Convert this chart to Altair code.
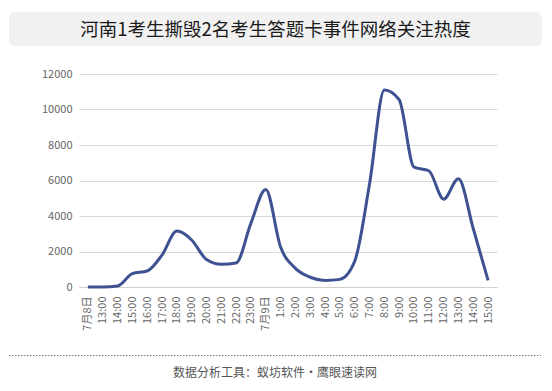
import altair as alt
import pandas as pd

# ---- data ----
labels = ["7月8日", "13:00", "14:00", "15:00", "16:00", "17:00", "18:00", "19:00",
          "20:00", "21:00", "22:00", "23:00", "7月9日", "1:00", "2:00", "3:00",
          "4:00", "5:00", "6:00", "7:00", "8:00", "9:00", "10:00", "11:00",
          "12:00", "13:00 ", "14:00 ", "15:00 "]
values = [0, 0, 60, 750, 900, 1800, 3150, 2650, 1550, 1280, 1350, 3600, 5500,
          2250, 1050, 550, 370, 430, 1450, 5800, 11100, 10550, 6750, 6550,
          4950, 6100, 3280, 370]
y_ticks = [0, 2000, 4000, 6000, 8000, 10000, 12000]
title_text = "河南1考生撕毁2名考生答题卡事件网络关注热度"
footer_text = "数据分析工具：蚁坊软件・鹰眼速读网"

FONT = "Noto Sans CJK SC"

df = pd.DataFrame({"label": labels, "value": values})

line = alt.Chart(df).mark_line(
    interpolate="monotone", color="#3E5292", strokeWidth=3
).encode(
    x=alt.X("label:N", sort=labels, title=None,
            scale=alt.Scale(type="point", padding=0.6),
            axis=alt.Axis(labelAngle=270, ticks=False, domainColor="#cfcfcf",
                          labelColor="#666666", labelFontSize=11, labelFont=FONT,
                          labelPadding=9, labelOverlap=False,
                          labelExpr="trim(datum.label)")),
    y=alt.Y("value:Q", title=None,
            scale=alt.Scale(domain=[0, 12000], nice=False),
            axis=alt.Axis(values=y_ticks, format="d", grid=True, gridColor="#d9d9d9",
                          domain=False, ticks=False, labelColor="#666666",
                          labelFontSize=11, labelFont=FONT, labelPadding=7)),
)

title_box = alt.Chart(pd.DataFrame({"a": [0]})).mark_rect(
    fill="#f1f1f1", cornerRadius=6
).encode(x=alt.value(-70), x2=alt.value(463), y=alt.value(-62), y2=alt.value(-28))

title = alt.Chart(pd.DataFrame({"t": [title_text]})).mark_text(
    font=FONT, fontSize=18.5, color="#1a1a1a", align="center", baseline="middle"
).encode(text="t:N", x=alt.value(196.5), y=alt.value(-44))

sep = alt.Chart(pd.DataFrame({"a": [0]})).mark_rule(
    color="#777777", strokeWidth=1, strokeDash=[1.5, 1.5]
).encode(x=alt.value(-70), x2=alt.value(462), y=alt.value(281.5))

footer = alt.Chart(pd.DataFrame({"t": [footer_text]})).mark_text(
    font=FONT, fontSize=12, color="#555555", align="center", baseline="middle"
).encode(text="t:N", x=alt.value(196), y=alt.value(299))

chart = alt.layer(title_box, title, line, sep, footer).properties(
    width=418, height=213,
    autosize=alt.AutoSizeParams(type="none"),
    padding={"left": 71, "top": 66, "right": 47, "bottom": 96},
    background="white",
).configure_view(stroke=None)

chart.save("out.html", embed_options={"renderer": "svg", "actions": False})
